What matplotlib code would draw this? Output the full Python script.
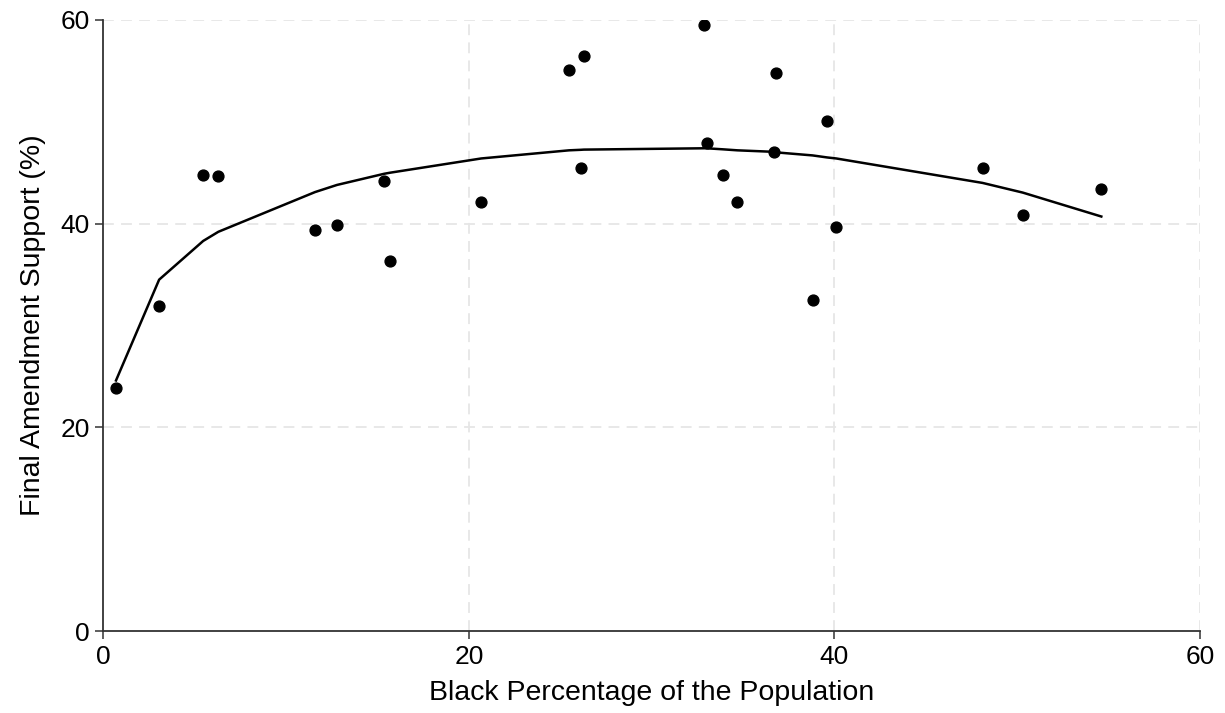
import matplotlib
matplotlib.use("Agg")
import matplotlib.pyplot as plt

plt.rcParams['font.family'] = ['Liberation Sans', 'DejaVu Sans']

# black share of population (%) and final amendment support (%)
black_pct = [0.69, 3.05, 5.46, 6.29, 11.58, 12.78, 15.37, 15.68, 20.67, 25.48,
             26.11, 26.29, 32.87, 33.0, 33.88, 34.68, 36.7, 36.8, 38.8, 39.6,
             40.1, 48.1, 50.3, 54.6]
support = [23.9, 31.9, 44.8, 44.7, 39.4, 39.9, 44.2, 36.3, 42.1, 55.1,
           45.5, 56.5, 59.5, 47.9, 44.8, 42.1, 47.05, 54.8, 32.5, 50.1,
           39.7, 45.5, 40.8, 43.4]
# lowess smooth, read at each x
smooth = [24.6, 34.5, 38.3, 39.2, 43.1, 43.8, 44.9, 45.0, 46.4, 47.2,
          47.25, 47.27, 47.4, 47.4, 47.3, 47.2, 47.05, 47.0, 46.7, 46.5,
          46.4, 44.0, 43.05, 40.7]

ticks = [0, 20, 40, 60]

fig = plt.figure(figsize=(12.25, 7.13), dpi=100)
ax = fig.add_axes([0.0844, 0.115, 0.8952, 0.857])

ax.plot(black_pct, smooth, color='black', lw=1.8, zorder=3)
ax.plot(black_pct, support, 'o', color='black', ms=7.8, zorder=4)

ax.set_xlim(0, 60)
ax.set_ylim(0, 60)
ax.set_xticks(ticks)
ax.set_yticks(ticks)

for t in ticks[1:]:
    ax.axhline(t, color='#e6e6e6', lw=1.3, ls=(0, (6, 4)), zorder=1)
    ax.axvline(t, color='#e6e6e6', lw=1.3, ls=(0, (6, 4)), zorder=1)

for s in ['top', 'right']:
    ax.spines[s].set_visible(False)
for s in ['left', 'bottom']:
    ax.spines[s].set_color('#333333')
    ax.spines[s].set_linewidth(1.3)
    ax.spines[s].set_clip_on(False)

ax.tick_params(direction='out', length=6, width=1.1, color='#333333', labelsize=19, pad=4)
ax.set_xlabel('Black Percentage of the Population', fontsize=20.5, labelpad=8)
ax.set_ylabel('Final Amendment Support (%)', fontsize=20.5, labelpad=10)

fig.savefig('out.png', dpi=100)
